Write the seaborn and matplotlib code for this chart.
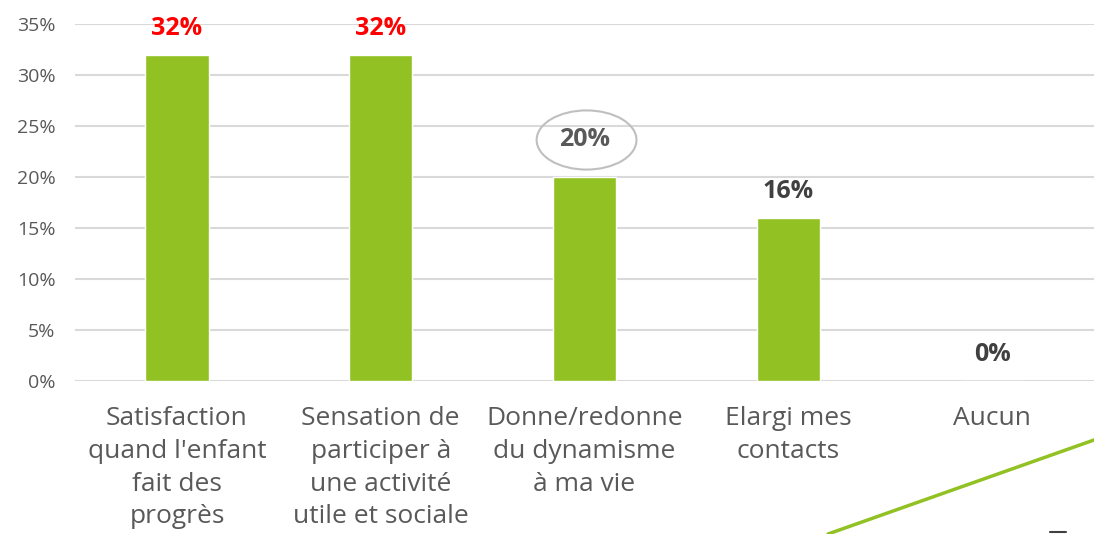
import matplotlib
matplotlib.use("Agg")
import matplotlib.pyplot as plt
import seaborn as sns
from matplotlib.patches import Ellipse
from matplotlib.lines import Line2D
from matplotlib.ticker import FuncFormatter

categories = [
    "Satisfaction\nquand l'enfant\nfait des\nprogrès",
    "Sensation de\nparticiper à\nune activité\nutile et sociale",
    "Donne/redonne\ndu dynamisme\nà ma vie",
    "Elargi mes\ncontacts",
    "Aucun",
]
values = [0.32, 0.32, 0.20, 0.16, 0.0]
labels = ["32%", "32%", "20%", "16%", "0%"]
label_colors = ["#ff0000", "#ff0000", "#595959", "#404040", "#404040"]

sns.set_theme(style="white")
plt.rcParams["font.family"] = ["Open Sans", "DejaVu Sans"]

fig = plt.figure(figsize=(10.94, 5.34), dpi=100)
ax = fig.add_axes([0.0686, 0.2865, 0.9314, 0.6685])

sns.barplot(x=list(range(len(values))), y=values, color="#92c123",
            saturation=1, width=0.31, ax=ax)

ax.set_xlim(-0.5, 4.5)
ax.set_ylim(0, 0.35)
ax.set_yticks([i * 0.05 for i in range(8)])
ax.yaxis.set_major_formatter(FuncFormatter(lambda v, _: f"{v * 100:.0f}%"))
ax.grid(axis="y", color="#d9d9d9", linewidth=1.5)
ax.set_axisbelow(True)
for s in ax.spines.values():
    s.set_visible(False)
ax.tick_params(axis="y", labelsize=14, colors="#595959", pad=14, length=0)
ax.set_xticks(range(len(categories)))
ax.set_xticklabels(categories, fontsize=19, color="#595959", linespacing=1.41)
ax.tick_params(axis="x", length=0, pad=18)
ax.set_xlabel("")
ax.set_ylabel("")

offsets = [19, 19, 27, 19, 19]
for i, (v, lab, col) in enumerate(zip(values, labels, label_colors)):
    ax.annotate(lab, (i, v), xytext=(0, offsets[i]), textcoords="offset points",
                ha="center", va="center", fontsize=18, fontweight="bold", color=col)

ax.add_patch(Ellipse((2.01, 0.2363), 0.49, 0.058, fill=False,
                     edgecolor="#bfbfbf", linewidth=1.5, clip_on=False))

# decorative line bottom right
fig.add_artist(Line2D([828 / 1094, 1.0], [0.0, (534 - 440) / 534],
                      color="#92c123", linewidth=2.5))
fig.add_artist(Line2D([1050 / 1094, 1066 / 1094], [2 / 534, 2 / 534],
                      color="#404040", linewidth=1.5))

fig.savefig("out.png", dpi=100)
